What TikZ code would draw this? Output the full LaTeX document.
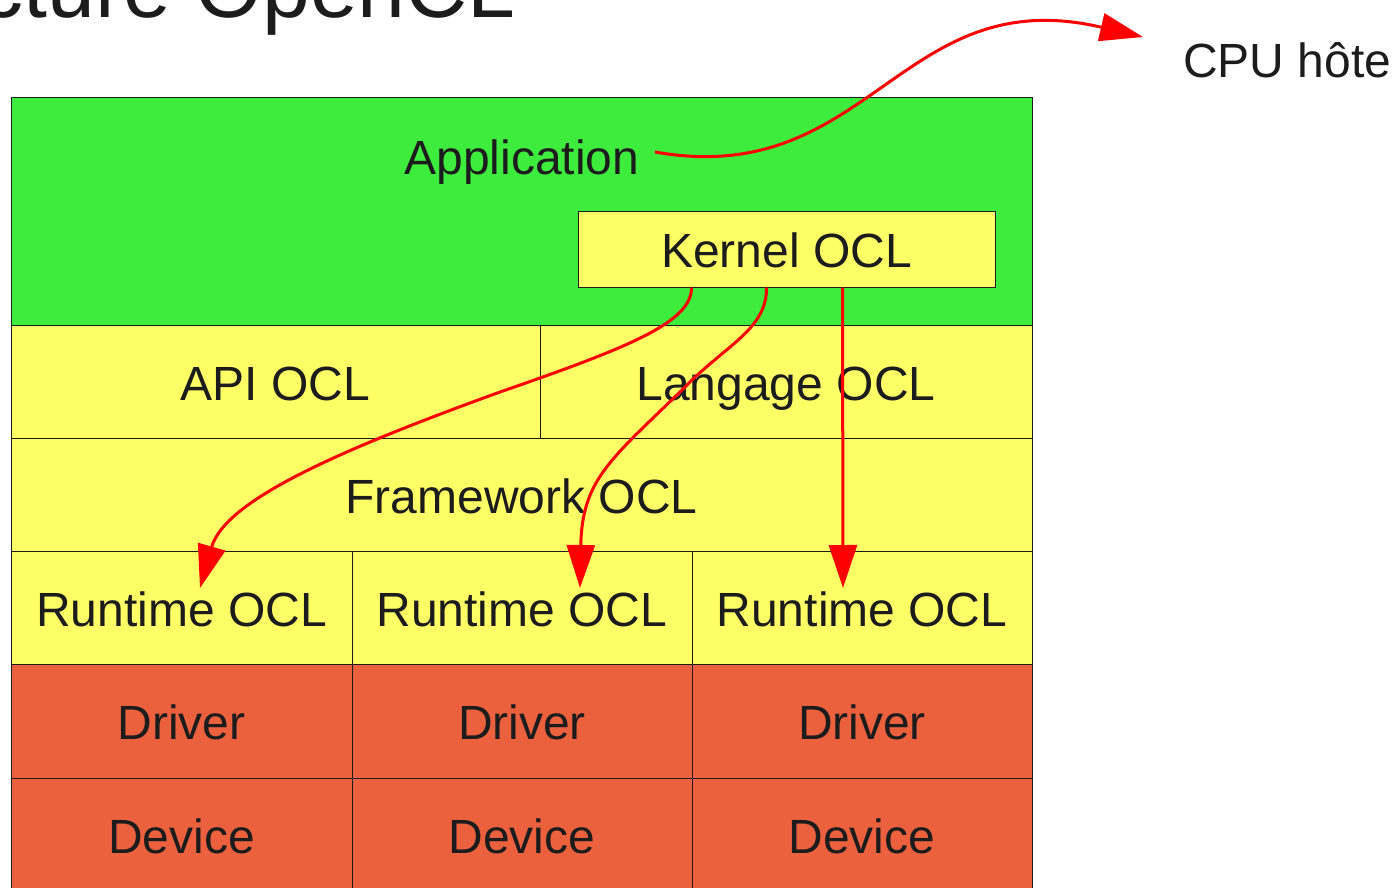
\documentclass[tikz,border=0pt]{standalone}
\usepackage{fontspec}
\setmainfont{Liberation Sans}
\usetikzlibrary{arrows.meta}
\definecolor{appgreen}{RGB}{62,236,62}
\definecolor{layeryellow}{RGB}{255,255,102}
\definecolor{hwred}{RGB}{235,97,62}
\definecolor{flowred}{RGB}{255,0,0}
\definecolor{ink}{RGB}{28,28,28}
\begin{document}
\begin{tikzpicture}[x=1pt,y=-1pt,
  layer/.style={draw=ink, line width=1pt, inner sep=0pt, text=ink,
    text height=37pt, text depth=0pt, font=\fontsize{48}{58}\selectfont},
  label48/.style={inner sep=0pt, text=ink, font=\fontsize{48}{58}\selectfont},
  flow/.style={draw=flowred, line width=3pt,
    -{Triangle[length=43pt,width=28pt]}}]
\useasboundingbox (0,0) rectangle (1397,888);
\clip (0,0) rectangle (1397,888);

% slide title
\node[anchor=base east, inner sep=0pt, text=ink,
  font=\fontsize{86}{100}\selectfont] (title) at (516,18) {Architecture OpenCL};

% application layer with its kernel
\node[layer, fill=appgreen, minimum width=1021pt, minimum height=227pt] (app) at (521.5,211.5) {};
\node[label48, anchor=base] (apptext) at (522,175) {Application};
\node[layer, fill=layeryellow, minimum width=417pt, minimum height=76pt] (kernel) at (786.5,249) {Kernel OCL};

% OpenCL software stack
\node[layer, fill=layeryellow, minimum width=529pt, minimum height=113pt] (api) at (275.5,381.5) {API OCL};
\node[layer, fill=layeryellow, minimum width=492pt, minimum height=113pt] (lang) at (786,381.5) {Langage OCL};
\node[layer, fill=layeryellow, minimum width=1021pt, minimum height=113pt] (fw) at (521.5,494.5) {Framework OCL};
\node[layer, fill=layeryellow, minimum width=341pt, minimum height=113pt] (rt1) at (181.5,607.5) {Runtime OCL};
\node[layer, fill=layeryellow, minimum width=340pt, minimum height=113pt] (rt2) at (522,607.5) {Runtime OCL};
\node[layer, fill=layeryellow, minimum width=340pt, minimum height=113pt] (rt3) at (862,607.5) {Runtime OCL};

% drivers and devices
\node[layer, fill=hwred, minimum width=341pt, minimum height=114pt] (drv1) at (181.5,721) {Driver};
\node[layer, fill=hwred, minimum width=340pt, minimum height=114pt] (drv2) at (522,721) {Driver};
\node[layer, fill=hwred, minimum width=340pt, minimum height=114pt] (drv3) at (862,721) {Driver};
\node[layer, fill=hwred, minimum width=341pt, minimum height=113pt] (dev1) at (181.5,834.5) {Device};
\node[layer, fill=hwred, minimum width=340pt, minimum height=113pt] (dev2) at (522,834.5) {Device};
\node[layer, fill=hwred, minimum width=340pt, minimum height=113pt] (dev3) at (862,834.5) {Device};

% host label
\node[label48, anchor=base west] (cpu) at (1183,78) {CPU hôte};

% connector ends
\coordinate (appout) at (655,152);
\coordinate (cpuin) at (1143,37);
\path (kernel.south west) ++(114,0) coordinate (k1);
\path (kernel.south west) ++(189,0) coordinate (k2);
\path (kernel.south west) ++(265,0) coordinate (k3);
\coordinate (t1) at (200,588);
\coordinate (t2) at (580,588);
\coordinate (t3) at (843,588);

% data flow
\draw[flow] (appout) .. controls (870,190) and (900,-20) .. (cpuin);
\draw[flow] (k1) .. controls (692,322) and (630,347) .. (500,392)
                 .. controls (340,450) and (225,500) .. (t1);
\draw[flow] (k2) .. controls (767,330) and (725,345) .. (682,390)
                 .. controls (610,460) and (582,480) .. (t2);
\draw[flow] (k3) -- (t3);
\end{tikzpicture}
\end{document}
